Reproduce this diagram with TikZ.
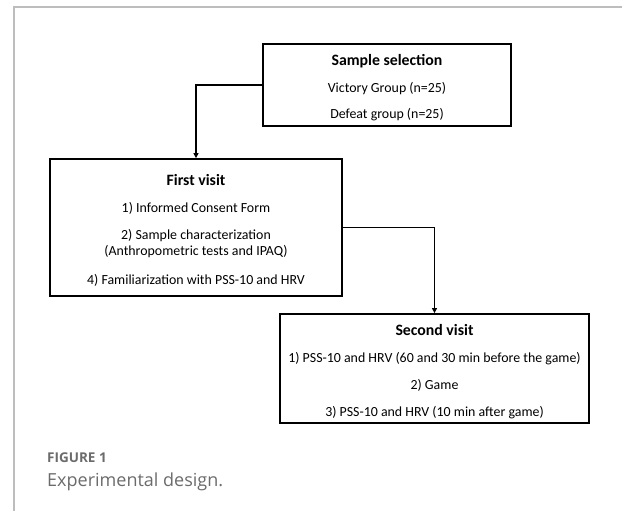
\documentclass[tikz,border=0pt]{standalone}
\usepackage{fontspec}
\setmainfont{Carlito}
\newfontfamily\capfont{Open Sans}
\usetikzlibrary{arrows.meta,positioning}
\definecolor{FrameClr}{rgb}{0.74,0.74,0.74}
\definecolor{CapClr}{rgb}{0.42,0.42,0.42}
\newcommand{\boxtitle}[1]{{\fontsize{15.8}{17}\selectfont\bfseries\rule{0pt}{17pt}#1}}

\begin{document}
\begin{tikzpicture}[x=1pt,y=-1pt,
  stagebox/.style={draw=black,line width=1.8pt,inner sep=0pt,align=center,
    font=\fontsize{13.9}{15.5}\selectfont},
  link/.style={line width=1.4pt,-{Triangle[length=5pt,width=5pt]}}]
\useasboundingbox (0,0) rectangle (622,511);

% gray frame of the figure
\draw[FrameClr,line width=1.5pt] (14,511) -- (14,7) -- (622,7);

\node[stagebox,minimum width=248pt,minimum height=82pt] (sel) at (387,85)
  {\boxtitle{Sample selection}\\[11pt]
   Victory Group (n=25)\\[11pt]
   Defeat group (n=25)};

\node[stagebox,minimum width=292pt,minimum height=137pt] (v1) at (196,227.5)
  {\boxtitle{First visit}\\[11pt]
   1) Informed Consent Form\\[12pt]
   2) Sample characterization\\
   (Anthropometric tests and IPAQ)\\[14pt]
   4) Familiarization with PSS-10 and HRV};

\node[stagebox,minimum width=309pt,minimum height=109pt] (v2) at (434.5,368.5)
  {\boxtitle{Second visit}\\[11.5pt]
   1) PSS-10 and HRV (60 and 30 min before the game)\\[11.5pt]
   2) Game\\[11.5pt]
   3) PSS-10 and HRV (10 min after game)};

\draw[link] (sel.west) -| (v1.north);
\draw[link] (v1.east) -| (v2.north);

% caption
\node[anchor=base west,inner sep=0pt,text=CapClr,font=\capfont\fontsize{13.5}{15}\selectfont\bfseries] (fig) at (47,462) {FIGURE 1};
\node[anchor=base west,inner sep=0pt,text=CapClr,font=\capfont\fontsize{18}{21}\selectfont] (cap) at (47,486) {Experimental design.};
\end{tikzpicture}
\end{document}
